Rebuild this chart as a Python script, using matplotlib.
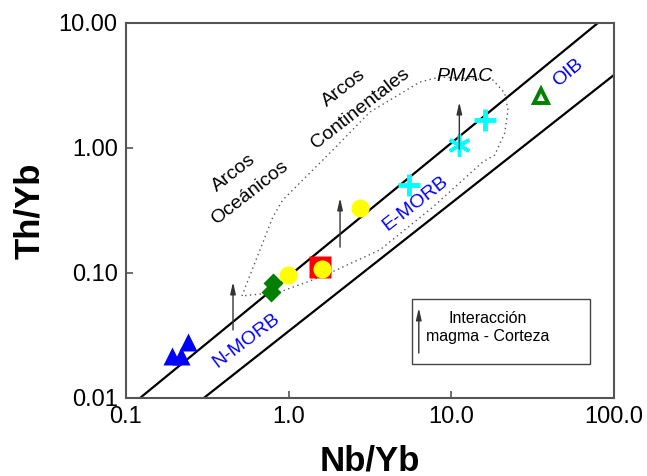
"""
Th/Yb vs Nb/Yb diagram (MORB-OIB array) with arc fields.

Usage:
    python plot.py
"""

import matplotlib
matplotlib.use("Agg")
import matplotlib.pyplot as plt
from matplotlib.patches import Rectangle

plt.rcParams['font.family'] = ['Liberation Sans', 'DejaVu Sans']

# Samples (Nb/Yb, Th/Yb)
NMORB_X = [0.192, 0.218, 0.240]
NMORB_Y = [0.0215, 0.0215, 0.0280]
DIAMOND_X = [0.80, 0.78]
DIAMOND_Y = [0.083, 0.070]
YELLOW_X = [0.99, 1.60, 2.74]
YELLOW_Y = [0.096, 0.108, 0.331]
SQUARE_X = [1.55]
SQUARE_Y = [0.111]
PLUS_X = [5.48, 16.1]
PLUS_Y = [0.506, 1.67]
STAR_X = [11.2]
STAR_Y = [1.06]
OIB_X = [35.6]
OIB_Y = [2.6]

# MORB-OIB array boundaries
UPPER_X = [0.122, 79.6]
UPPER_Y = [0.01, 10.0]
LOWER_X = [0.301, 100.0]
LOWER_Y = [0.01, 3.84]

# Arc field outline (dotted)
FIELD_X = [0.516, 0.80, 0.92, 1.87, 3.16, 6.41, 8.51, 18.0, 21.3, 22.3, 21.3,
           18.5, 15.6, 7.71, 3.64, 1.79, 1.30, 0.88, 0.516]
FIELD_Y = [0.0655, 0.281, 0.384, 0.964, 1.94, 3.37, 3.70, 3.50, 2.75, 2.01, 1.32,
           0.879, 0.773, 0.337, 0.153, 0.100, 0.0847, 0.0705, 0.0655]

# Crustal interaction arrows: x, y start, y end
ARROW_X = [0.455, 2.07, 11.2]
ARROW_Y0 = [0.035, 0.161, 0.98]
ARROW_Y1 = [0.0847, 0.398, 2.33]

ARROW_STYLE = dict(arrowstyle='-|>,head_width=0.16,head_length=0.7',
                   color='#333333', lw=1.0, shrinkA=0, shrinkB=0)


def main():
    fig = plt.figure(figsize=(6.47, 4.76), dpi=100)
    ax = fig.add_axes([0.1947, 0.1639, 0.7543, 0.7878])
    ax.set_xscale('log')
    ax.set_yscale('log')
    ax.set_xlim(0.1, 100)
    ax.set_ylim(0.01, 10)

    # array lines and arc field
    ax.plot(UPPER_X, UPPER_Y, color='black', lw=1.6)
    ax.plot(LOWER_X, LOWER_Y, color='black', lw=1.6)
    ax.plot(FIELD_X, FIELD_Y, color='#555555', lw=1.0, ls=(0, (1, 2.5)))

    for x, y0, y1 in zip(ARROW_X, ARROW_Y0, ARROW_Y1):
        ax.annotate('', xy=(x, y1), xytext=(x, y0), arrowprops=ARROW_STYLE)

    # samples
    ax.plot(NMORB_X, NMORB_Y, '^', color='#0000ff', ms=13, mec='none')
    ax.plot(DIAMOND_X, DIAMOND_Y, 'D', color='#007f00', ms=10, mec='none')
    ax.plot(SQUARE_X, SQUARE_Y, 's', color='#ff0000', ms=16.5, mec='none')
    ax.plot(YELLOW_X, YELLOW_Y, 'o', color='#ffff00', ms=13, mec='none')
    ax.plot(PLUS_X, PLUS_Y, '+', color='#00ffff', ms=16, mew=3.5)
    ax.plot(STAR_X, STAR_Y, marker=(6, 2, 0), ls='none', color='#00ffff', ms=16, mew=2.5)
    ax.plot(OIB_X, OIB_Y, '^', mfc='none', mec='#007f00', ms=10, mew=2.8)

    # field labels
    ax.text(0.516, 0.525, 'Arcos\nOceánicos', fontsize=14, rotation=38,
            ha='center', va='center', rotation_mode='anchor', linespacing=1.7)
    ax.text(2.45, 2.51, 'Arcos\nContinentales', fontsize=14, rotation=38,
            ha='center', va='center', rotation_mode='anchor', linespacing=1.7)
    ax.text(12.1, 3.70, 'PMAC', fontsize=14, style='italic', ha='center', va='center')
    ax.text(0.547, 0.0286, 'N-MORB', fontsize=14, color='#0000ff', rotation=37,
            ha='center', va='center', rotation_mode='anchor')
    ax.text(5.97, 0.363, 'E-MORB', fontsize=14, color='#0000ff', rotation=38,
            ha='center', va='center', rotation_mode='anchor')
    ax.text(52.1, 3.98, 'OIB', fontsize=14, color='#0000ff', rotation=40,
            ha='center', va='center', rotation_mode='anchor')

    # legend box
    ax.add_patch(Rectangle((0.586, 0.0907), 0.365, 0.173, transform=ax.transAxes,
                           fill=False, ec='#444444', lw=1.0))
    ax.annotate('', xy=(0.600, 0.24), xytext=(0.600, 0.12), xycoords='axes fraction',
                textcoords='axes fraction', arrowprops=ARROW_STYLE)
    ax.text(0.742, 0.188, 'Interacción\nmagma - Corteza', transform=ax.transAxes,
            fontsize=11.5, ha='center', va='center', linespacing=1.3)

    ax.set_xticks([0.1, 1, 10, 100])
    ax.set_xticklabels(['0.1', '1.0', '10.0', '100.0'])
    ax.set_yticks([0.01, 0.1, 1, 10])
    ax.set_yticklabels(['0.01', '0.10', '1.00', '10.00'])
    ax.minorticks_off()
    ax.tick_params(direction='in', length=5, width=1.2, color='#555555',
                   labelsize=17, pad=6)
    for spine in ax.spines.values():
        spine.set_color('#555555')
        spine.set_linewidth(1.5)

    ax.set_xlabel('Nb/Yb', fontsize=25, fontweight='bold', labelpad=11.5)
    ax.set_ylabel('Th/Yb', fontsize=25, fontweight='bold', labelpad=9)

    fig.savefig('out.png', dpi=100, facecolor='white')
    plt.close(fig)


if __name__ == "__main__":
    main()
